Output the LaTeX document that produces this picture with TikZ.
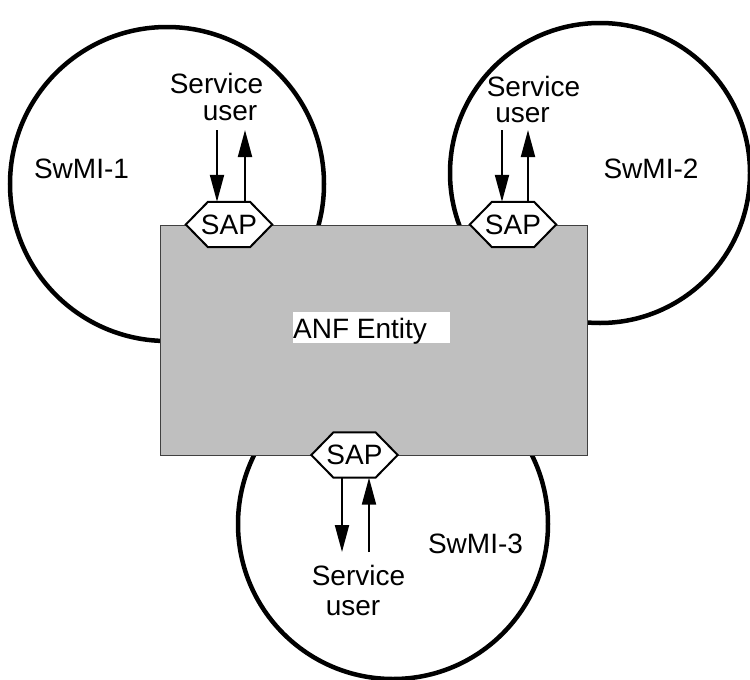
\documentclass[tikz,border=0pt]{standalone}
\usepackage{fontspec}
\setmainfont{Liberation Sans}
\usetikzlibrary{arrows.meta}
\begin{document}
\begin{tikzpicture}[x=1pt,y=-1pt,
  txt/.style={font=\fontsize{28pt}{28pt}\selectfont, inner sep=0pt},
  circ/.style={draw=black, line width=4.5pt, fill=white},
  anfbox/.style={draw=black!75, line width=1pt, fill=black!25, minimum width=427pt, minimum height=230pt, inner sep=0pt},
  sapbox/.style={minimum width=86pt, minimum height=45pt, inner sep=0pt},
  saphex/.style={draw=black, line width=2pt, fill=white, line join=miter},
  arr/.style={line width=2pt, -{Triangle[length=27pt,width=14pt]}}
]
\useasboundingbox (0,0) rectangle (750,680);
% circles
\draw[circ] (167,184) circle[radius=157];
\draw[circ] (600,173) circle[radius=150];
\draw[circ] (393,524) circle[radius=155];
% entity box
\node[anfbox] (anf) at (373.5,340) {};
\fill[white] (293,312) rectangle (450,343);
\node[txt, anchor=base west] (anftxt) at (293,338) {ANF Entity};
% SAP boxes
\node[sapbox] (sap1) at (229,224.5) {};
\node[sapbox] (sap2) at (513,224.5) {};
\node[sapbox] (sap3) at (354.5,455) {};
\foreach \s in {sap1,sap2,sap3}{
  \draw[saphex] (\s.west) -- ([xshift=-21pt]\s.north) -- ([xshift=21pt]\s.north)
    -- (\s.east) -- ([xshift=21pt]\s.south) -- ([xshift=-21pt]\s.south) -- cycle;
}
\node[txt] (sap1t) at (sap1) {SAP};
\node[txt] (sap2t) at (sap2) {SAP};
\node[txt] (sap3t) at (sap3) {SAP};
% labels
\node[txt, anchor=base] (s1) at (216.5,93) {Service};
\node[txt, anchor=base] (u1) at (230,120) {user};
\node[txt, anchor=base] (s2) at (533.5,96) {Service};
\node[txt, anchor=base] (u2) at (522.5,122) {user};
\node[txt, anchor=base] (s3) at (358.5,585) {Service};
\node[txt, anchor=base] (u3) at (353,615) {user};
\node[txt, anchor=base] (w1) at (81.5,178) {SwMI-1};
\node[txt, anchor=base] (w2) at (651,178) {SwMI-2};
\node[txt, anchor=base] (w3) at (475.5,553) {SwMI-3};
% arrow end coordinates
\coordinate (a1d) at (217,130);
\coordinate (a1u) at (245,130);
\coordinate (a2d) at (502,130);
\coordinate (a2u) at (528,130);
\coordinate (a3d) at (342,552);
\coordinate (a3u) at (369,552);
% arrows
\draw[arr] (a1d) -- (a1d |- sap1.north);
\draw[arr] (a1u |- sap1.north) -- (a1u);
\draw[arr] (a2d) -- (a2d |- sap2.north);
\draw[arr] (a2u |- sap2.north) -- (a2u);
\draw[arr] (a3d |- sap3.south) -- (a3d);
\draw[arr] (a3u) -- (a3u |- sap3.south);
\end{tikzpicture}
\end{document}
